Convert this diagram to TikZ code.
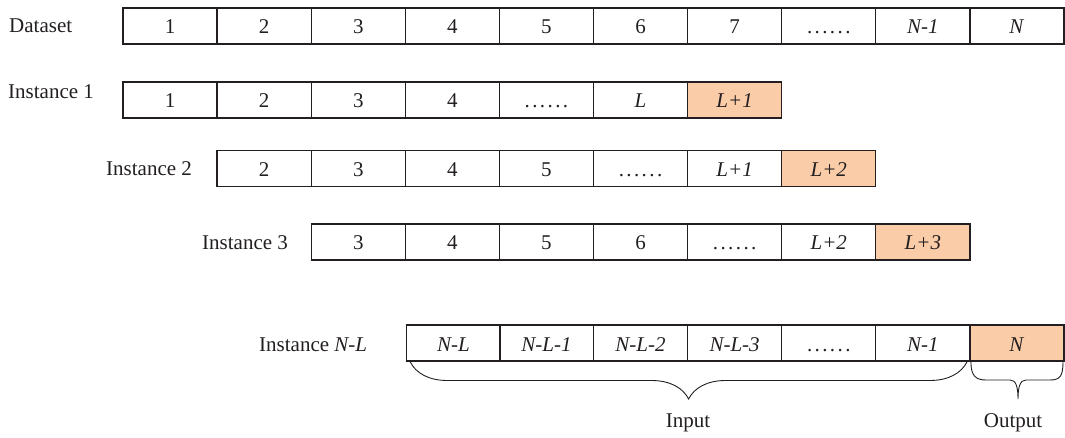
\documentclass[tikz,border=0pt]{standalone}
\usepackage{fontspec}
\setmainfont{Liberation Serif}
\usetikzlibrary{decorations.pathreplacing}

\definecolor{ink}{RGB}{35,31,32}
\definecolor{peach}{RGB}{251,204,168}

% six spaced dots on the baseline
\newcommand{\dotrow}{.\kern2.4pt.\kern2.4pt.\kern2.4pt.\kern2.4pt.\kern2.4pt.}

\tikzset{
  cell/.style={draw=ink, line width=1.3pt, minimum width=94.1pt, minimum height=36pt,
    inner sep=0pt, outer sep=0pt, text=ink, text height=16pt, text depth=0pt},
  target/.style={cell, fill=peach},
  rowlabel/.style={anchor=west, inner sep=0pt, text=ink},
  curly/.style={draw=ink, line width=0.9pt},
}

\begin{document}
\begin{tikzpicture}[x=1pt, y=-1pt, font=\fontsize{21}{24}\selectfont]
    \useasboundingbox (0,0) rectangle (1065,438);

    % Dataset
    \node[rowlabel] (dlab) at (9,26) {Dataset};
    \node[cell] (d1) at (170.05,26) {1};
    \node[cell] (d2) at (264.15,26) {2};
    \node[cell] (d3) at (358.25,26) {3};
    \node[cell] (d4) at (452.35,26) {4};
    \node[cell] (d5) at (546.45,26) {5};
    \node[cell] (d6) at (640.55,26) {6};
    \node[cell] (d7) at (734.65,26) {7};
    \node[cell] (d8) at (828.75,26) {\dotrow};
    \node[cell] (d9) at (922.85,26) {\textit{N-1}};
    \node[cell] (d10) at (1016.95,26) {\textit{N}};

    % Instance 1
    \node[rowlabel] (alab) at (8,92) {Instance 1};
    \node[cell] (a1) at (170.05,100) {1};
    \node[cell] (a2) at (264.15,100) {2};
    \node[cell] (a3) at (358.25,100) {3};
    \node[cell] (a4) at (452.35,100) {4};
    \node[cell] (a5) at (546.45,100) {\dotrow};
    \node[cell] (a6) at (640.55,100) {\textit{L}};
    \node[target] (a7) at (734.65,100) {\textit{L+1}};

    % Instance 2
    \node[rowlabel] (blab) at (106,168.5) {Instance 2};
    \node[cell] (b1) at (264.15,168.5) {2};
    \node[cell] (b2) at (358.25,168.5) {3};
    \node[cell] (b3) at (452.35,168.5) {4};
    \node[cell] (b4) at (546.45,168.5) {5};
    \node[cell] (b5) at (640.55,168.5) {\dotrow};
    \node[cell] (b6) at (734.65,168.5) {\textit{L+1}};
    \node[target] (b7) at (828.75,168.5) {\textit{L+2}};

    % Instance 3
    \node[rowlabel] (clab) at (202,243) {Instance 3};
    \node[cell] (c1) at (358.25,242) {3};
    \node[cell] (c2) at (452.35,242) {4};
    \node[cell] (c3) at (546.45,242) {5};
    \node[cell] (c4) at (640.55,242) {6};
    \node[cell] (c5) at (734.65,242) {\dotrow};
    \node[cell] (c6) at (828.75,242) {\textit{L+2}};
    \node[target] (c7) at (922.85,242) {\textit{L+3}};

    % Instance N-L
    \node[rowlabel] (nlab) at (259,345) {Instance \textit{N-L}};
    \node[cell] (n1) at (453.35,343) {\textit{N-L}};
    \node[cell] (n2) at (546.45,343) {\textit{N-L-1}};
    \node[cell] (n3) at (640.55,343) {\textit{N-L-2}};
    \node[cell] (n4) at (734.65,343) {\textit{N-L-3}};
    \node[cell] (n5) at (828.75,343) {\dotrow};
    \node[cell] (n6) at (922.85,343) {\textit{N-1}};
    \node[target] (n7) at (1016.95,343) {\textit{N}};

    % braces
    \draw[curly, decorate, decoration={brace, mirror, amplitude=37pt}]
        ([xshift=4pt,yshift=-1pt]n1.south west) -- ([xshift=-3pt,yshift=-1pt]n6.south east);
    \draw[curly] ([xshift=1pt,yshift=-1pt]n7.south west) .. controls +(0,14) and +(-10,0) .. (986,380)
        -- (1010,380) .. controls +(6,0) and +(0,-12) .. (1018,399)
        .. controls +(0,-12) and +(-6,0) .. (1026,380)
        -- (1050,380) .. controls +(10,0) and +(0,14) .. ([xshift=-1pt,yshift=-1pt]n7.south east);

    \node[text=ink] (inp) at (688,423) {Input};
    \node[text=ink] (outp) at (1013,423) {Output};
\end{tikzpicture}
\end{document}
